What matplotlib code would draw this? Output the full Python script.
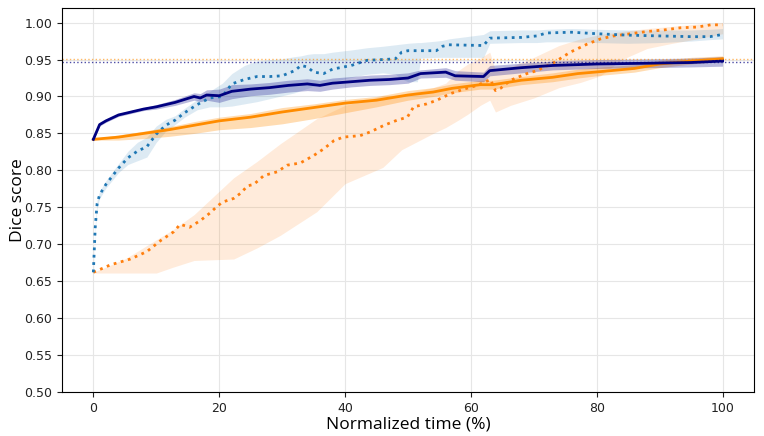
import matplotlib
matplotlib.use('Agg')
import matplotlib.pyplot as plt

# navy solid line
t_nv = [0, 1, 2, 4, 6, 8, 10, 13, 16, 17, 18, 20, 22, 25, 28, 31, 34, 36, 38, 41,
        44, 47, 50, 52, 56, 57.5, 62, 63, 68, 73, 80, 88, 95, 100]
nv = [0.842, 0.862, 0.867, 0.875, 0.879, 0.883, 0.886, 0.892, 0.900, 0.898,
      0.902, 0.901, 0.907, 0.910, 0.912, 0.915, 0.917, 0.915, 0.918, 0.920,
      0.922, 0.923, 0.925, 0.931, 0.933, 0.928, 0.927, 0.935, 0.939, 0.942,
      0.944, 0.945, 0.946, 0.948]
nv_lo = [0.841, 0.860, 0.865, 0.873, 0.877, 0.881, 0.883, 0.888, 0.895, 0.893,
         0.895, 0.892, 0.897, 0.901, 0.903, 0.906, 0.908, 0.907, 0.910, 0.913,
         0.915, 0.916, 0.918, 0.925, 0.926, 0.922, 0.920, 0.928, 0.932, 0.936,
         0.938, 0.939, 0.940, 0.941]
nv_hi = [0.843, 0.864, 0.869, 0.877, 0.881, 0.885, 0.889, 0.896, 0.905, 0.904,
         0.909, 0.910, 0.916, 0.917, 0.919, 0.922, 0.924, 0.922, 0.925, 0.927,
         0.929, 0.930, 0.932, 0.936, 0.939, 0.935, 0.933, 0.942, 0.945, 0.948,
         0.950, 0.951, 0.952, 0.954]

# blue dotted line
t_bd = [0, 0.3, 0.6, 1, 2, 4, 5.5, 7, 8.5, 10,
        11.5, 13, 14.5, 16.5, 18.5, 20.5, 22, 24, 26, 28,
        30, 32, 33, 34, 35, 36.6, 38, 41, 43.5, 46,
        48, 49, 50, 51.5, 52, 54.5, 55.5, 56.5, 62, 63,
        68, 70.5, 72, 76, 80, 85, 90, 95, 98, 100]
bd = [0.662, 0.723, 0.755, 0.767, 0.781, 0.803, 0.817, 0.826, 0.832, 0.849,
      0.861, 0.868, 0.878, 0.889, 0.898, 0.900, 0.917, 0.923, 0.927, 0.927,
      0.928, 0.935, 0.942, 0.940, 0.933, 0.931, 0.937, 0.942, 0.949, 0.950,
      0.951, 0.960, 0.962, 0.962, 0.962, 0.962, 0.968, 0.970, 0.969, 0.979,
      0.980, 0.982, 0.986, 0.987, 0.985, 0.983, 0.982, 0.981, 0.981, 0.984]
bd_lo = [0.660, 0.718, 0.750, 0.762, 0.776, 0.797, 0.808, 0.813, 0.818, 0.838,
         0.853, 0.862, 0.872, 0.882, 0.886, 0.886, 0.887, 0.890, 0.893, 0.897,
         0.901, 0.905, 0.908, 0.911, 0.914, 0.917, 0.920, 0.926, 0.930, 0.932,
         0.930, 0.924, 0.920, 0.920, 0.952, 0.953, 0.953, 0.953, 0.953, 0.972,
         0.973, 0.973, 0.974, 0.974, 0.973, 0.972, 0.973, 0.975, 0.977, 0.978]
bd_hi = [0.664, 0.728, 0.760, 0.772, 0.786, 0.809, 0.826, 0.838, 0.845, 0.860,
         0.869, 0.874, 0.884, 0.896, 0.907, 0.918, 0.931, 0.942, 0.948, 0.950,
         0.951, 0.954, 0.955, 0.957, 0.958, 0.958, 0.960, 0.963, 0.966, 0.968,
         0.970, 0.971, 0.972, 0.973, 0.973, 0.975, 0.976, 0.978, 0.984, 0.989,
         0.990, 0.990, 0.991, 0.992, 0.991, 0.990, 0.990, 0.990, 0.991, 0.992]

# orange solid line
t_os = [0, 4, 8, 12, 16, 20, 25, 30, 35, 40, 45, 50, 54, 57, 61.5, 63.5, 68, 73,
        77, 81, 86, 90, 95, 100]
os_ = [0.842, 0.845, 0.850, 0.855, 0.861, 0.867, 0.872, 0.879, 0.885, 0.891,
       0.895, 0.902, 0.906, 0.911, 0.916, 0.916, 0.922, 0.926, 0.931, 0.934,
       0.938, 0.944, 0.948, 0.951]
os_lo = [0.841, 0.841, 0.843, 0.846, 0.850, 0.855, 0.858, 0.863, 0.870, 0.878,
         0.886, 0.895, 0.900, 0.905, 0.910, 0.910, 0.916, 0.920, 0.925, 0.929,
         0.933, 0.939, 0.944, 0.948]
os_hi = [0.843, 0.848, 0.853, 0.859, 0.866, 0.872, 0.877, 0.885, 0.890, 0.896,
         0.900, 0.908, 0.912, 0.917, 0.922, 0.922, 0.927, 0.932, 0.937, 0.940,
         0.943, 0.949, 0.953, 0.955]

# orange dotted line
t_od = [0, 2.7, 5.9, 8.5, 10.7, 12.8, 13.8, 15.3, 17, 18.5,
        19.5, 20.5, 22.3, 23.4, 24.5, 25.5, 27.1, 29.2, 30.8, 32.9,
        35, 36.6, 38.2, 39.7, 42.4, 44, 46.2, 48.3, 49.9, 50.9,
        53, 54.6, 56.8, 58.9, 61, 63.1, 63.9, 64.7, 66.3, 68.9,
        70.5, 73.2, 75.8, 78.5, 80.6, 82.7, 85.4, 88, 90.6, 93.3,
        96, 98.1, 100]
od = [0.662, 0.672, 0.680, 0.690, 0.705, 0.717, 0.727, 0.723, 0.732, 0.742,
      0.750, 0.757, 0.762, 0.769, 0.779, 0.781, 0.793, 0.798, 0.807, 0.810,
      0.820, 0.829, 0.840, 0.845, 0.847, 0.852, 0.861, 0.868, 0.872, 0.886,
      0.890, 0.895, 0.904, 0.910, 0.915, 0.923, 0.908, 0.911, 0.922, 0.931,
      0.935, 0.946, 0.960, 0.971, 0.978, 0.982, 0.985, 0.988, 0.990, 0.993,
      0.994, 0.997, 0.997]
t_pb = [0, 5, 10, 12.7, 16, 22.3, 26, 29.7, 35.5, 40, 46, 49, 54, 56, 58, 59.5,
        61.5, 63, 63.9, 66.3, 70, 74, 77.4, 80.6, 84, 88, 92, 96, 100]
od_lo = [0.661, 0.661, 0.661, 0.669, 0.678, 0.680, 0.695, 0.712, 0.744, 0.782,
         0.804, 0.828, 0.850, 0.858, 0.868, 0.876, 0.888, 0.895, 0.879, 0.888,
         0.898, 0.912, 0.919, 0.928, 0.950, 0.965, 0.972, 0.978, 0.985]
od_hi = [0.662, 0.680, 0.706, 0.720, 0.740, 0.790, 0.812, 0.836, 0.870, 0.888,
         0.901, 0.902, 0.912, 0.918, 0.935, 0.944, 0.952, 0.960, 0.935, 0.940,
         0.953, 0.969, 0.978, 0.984, 0.988, 0.992, 0.995, 0.998, 1.000]

ref_orange = 0.951
ref_navy = 0.947

fig = plt.figure(figsize=(7.64, 4.36), dpi=100)
ax = fig.add_axes([0.081, 0.101, 0.906, 0.881])

ax.fill_between(t_pb, od_lo, od_hi, color='#ff7f0e', alpha=0.15, lw=0)
ax.fill_between(t_bd, bd_lo, bd_hi, color='#1f77b4', alpha=0.15, lw=0)
ax.fill_between(t_os, os_lo, os_hi, color='#ff8c00', alpha=0.3, lw=0)
ax.fill_between(t_nv, nv_lo, nv_hi, color='#1a1a90', alpha=0.3, lw=0)

ax.plot(t_od, od, ':', color='#ff7f0e', lw=2)
ax.plot(t_bd, bd, ':', color='#1f77b4', lw=2)
ax.plot(t_os, os_, '-', color='#ff8c00', lw=2)
ax.plot(t_nv, nv, '-', color='#000080', lw=2)

ax.axhline(ref_orange, color='#ff8c00', ls=':', lw=1, alpha=0.6)
ax.axhline(ref_navy, color='#000080', ls=':', lw=1, alpha=0.7)

ax.set_xlim(-5, 105)
ax.set_ylim(0.5, 1.02)
ax.set_xticks([0, 20, 40, 60, 80, 100])
ax.set_yticks([0.5 + 0.05 * i for i in range(11)])
ax.set_yticklabels(['%.2f' % (0.5 + 0.05 * i) for i in range(11)])
ax.tick_params(labelsize=9, colors='#222222')
ax.grid(True, color='#e6e6e6', lw=0.8)
ax.set_axisbelow(True)

ax.set_xlabel('Normalized time (%)', fontsize=12.5, family='Open Sans', labelpad=1)
ax.set_ylabel('Dice score', fontsize=12.5, family='Open Sans')
ax.yaxis.set_label_coords(-0.052, 0.5)

fig.savefig('out.png', dpi=100)
